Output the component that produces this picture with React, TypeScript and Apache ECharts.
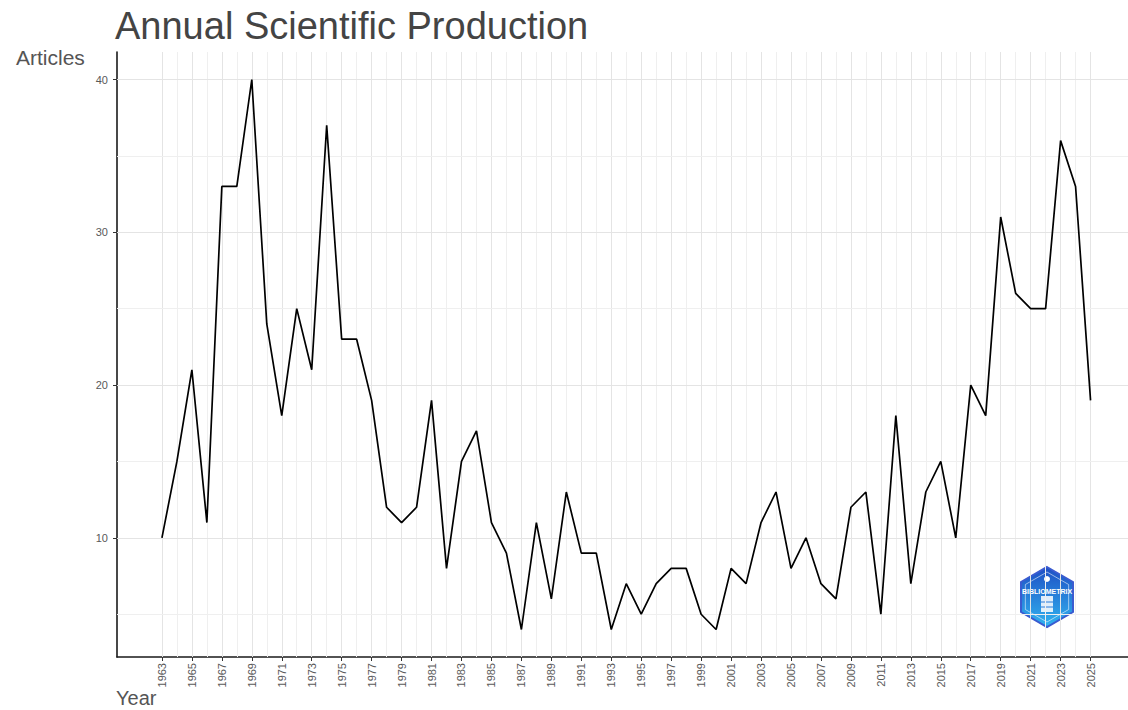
import React, { useEffect, useRef } from "react";
import * as echarts from "echarts";

const years: number[] = [
  1963, 1964, 1965, 1966, 1967, 1968, 1969, 1970, 1971, 1972,
  1973, 1974, 1975, 1976, 1977, 1978, 1979, 1980, 1981, 1982,
  1983, 1984, 1985, 1986, 1987, 1988, 1989, 1990, 1991, 1992,
  1993, 1994, 1995, 1996, 1997, 1998, 1999, 2000, 2001, 2002,
  2003, 2004, 2005, 2006, 2007, 2008, 2009, 2010, 2011, 2012,
  2013, 2014, 2015, 2016, 2017, 2018, 2019, 2020, 2021, 2022,
  2023, 2024, 2025,
];

const articles: number[] = [
  10, 15, 21, 11, 33, 33, 40, 24, 18, 25,
  21, 37, 23, 23, 19, 12, 11, 12, 19, 8,
  15, 17, 11, 9, 4, 11, 6, 13, 9, 9,
  4, 7, 5, 7, 8, 8, 5, 4, 8, 7,
  11, 13, 8, 10, 7, 6, 12, 13, 5, 18,
  7, 13, 15, 10, 20, 18, 31, 26, 25, 25,
  36, 33, 19,
];

const xTickLabels: number[] = [
  1963, 1965, 1967, 1969, 1971, 1973, 1975, 1977, 1979, 1981, 1983,
  1985, 1987, 1989, 1991, 1993, 1995, 1997, 1999, 2001, 2003, 2005,
  2007, 2009, 2011, 2013, 2015, 2017, 2019, 2021, 2023, 2025,
];

const yTickLabels: number[] = [10, 20, 30, 40];
const yMinorGrid: number[] = [5, 15, 25, 35];

const TITLE = "Annual Scientific Production";
const Y_NAME = "Articles";
const X_NAME = "Year";

export default function App() {
  const ref = useRef<HTMLDivElement>(null);

  useEffect(() => {
    if (!ref.current) return;
    const chart = echarts.init(ref.current, null, { renderer: "svg" });

    const gridMarks: any[] = [];
    years.forEach((y) => {
      const major = xTickLabels.includes(y);
      gridMarks.push({
        xAxis: y,
        lineStyle: { color: major ? "#e4e4e4" : "#efefef", width: 1, type: "solid" },
      });
    });
    yTickLabels.forEach((v) =>
      gridMarks.push({ yAxis: v, lineStyle: { color: "#e4e4e4", width: 1, type: "solid" } })
    );
    yMinorGrid.forEach((v) =>
      gridMarks.push({ yAxis: v, lineStyle: { color: "#efefef", width: 1, type: "solid" } })
    );

    const pts = years.map((y, i) => [y, articles[i]]);

    const hexR = 30;
    const cx = 1047;
    const cy = 597;
    const hex = (r: number) =>
      [0, 1, 2, 3, 4, 5].map((k) => {
        const a = (Math.PI / 3) * k - Math.PI / 2;
        return [cx + r * Math.cos(a), cy + r * Math.sin(a)];
      });

    chart.setOption({
      animation: false,
      backgroundColor: "#ffffff",
      textStyle: { fontFamily: "Liberation Sans, Arial, sans-serif" },
      grid: { left: 117, top: 52, width: 1011, height: 605, containLabel: false },
      xAxis: {
        type: "value",
        min: 1960,
        max: 2027.5,
        axisLine: { show: true, onZero: false, lineStyle: { color: "#1a1a1a", width: 1.6 } },
        axisTick: {
          show: true,
          customValues: xTickLabels,
          length: 4,
          lineStyle: { color: "#333333", width: 1 },
        },
        axisLabel: {
          show: true,
          customValues: xTickLabels,
          formatter: (v: number) => String(v),
          rotate: 90,
          fontSize: 11,
          color: "#595959",
          margin: 6,
        },
        splitLine: { show: false },
      },
      yAxis: {
        type: "value",
        min: 2.2,
        max: 41.8,
        axisLine: { show: true, onZero: false, lineStyle: { color: "#1a1a1a", width: 1.6 } },
        axisTick: {
          show: true,
          customValues: yTickLabels,
          length: 4,
          lineStyle: { color: "#333333", width: 1 },
        },
        axisLabel: {
          show: true,
          customValues: yTickLabels,
          formatter: (v: number) => String(v),
          fontSize: 11,
          color: "#595959",
          margin: 9,
        },
        splitLine: { show: false },
      },
      series: [
        {
          type: "line",
          data: pts,
          silent: true,
          symbol: "none",
          z: 1,
          lineStyle: { opacity: 0, width: 0 },
          markLine: {
            silent: true,
            symbol: ["none", "none"],
            label: { show: false },
            data: gridMarks,
          },
        },
        {
          type: "line",
          data: pts,
          symbol: "none",
          z: 5,
          lineStyle: { color: "#000000", width: 1.7 },
        },
      ],
      graphic: [
        {
          type: "text",
          left: 115,
          top: 7,
          style: {
            text: TITLE,
            fontSize: 38,
            fill: "#444444",
            fontFamily: "Liberation Sans, Arial, sans-serif",
          },
        },
        {
          type: "text",
          left: 16,
          top: 47,
          style: {
            text: Y_NAME,
            fontSize: 21,
            fill: "#555555",
            fontFamily: "Liberation Sans, Arial, sans-serif",
          },
        },
        {
          type: "text",
          left: 116,
          top: 688,
          style: {
            text: X_NAME,
            fontSize: 20,
            fill: "#555555",
            fontFamily: "Liberation Sans, Arial, sans-serif",
          },
        },
        {
          type: "group",
          z: 100,
          children: [
            {
              type: "polygon",
              shape: { points: hex(hexR) },
              style: {
                fill: new echarts.graphic.LinearGradient(0, 0, 0, 1, [
                  { offset: 0, color: "#1e4fc4" },
                  { offset: 1, color: "#31b4f0" },
                ]),
                stroke: "#3a5bd0",
                lineWidth: 2,
              },
            },
            {
              type: "polygon",
              shape: { points: hex(hexR - 5) },
              style: { fill: "none", stroke: "rgba(255,255,255,0.55)", lineWidth: 1 },
            },
            {
              type: "text",
              x: cx,
              y: cy - 6,
              style: {
                text: "BIBLIOMETRIX",
                fontSize: 7,
                fontWeight: "bold",
                fill: "#ffffff",
                align: "center",
                verticalAlign: "middle",
              },
            },
            {
              type: "rect",
              shape: { x: cx - 6, y: cy - 1, width: 12, height: 16 },
              style: { fill: "rgba(255,255,255,0.85)" },
            },
            {
              type: "line",
              shape: { x1: cx - 6, y1: cy + 5, x2: cx + 6, y2: cy + 5 },
              style: { stroke: "#2a7ad8", lineWidth: 1 },
            },
            {
              type: "line",
              shape: { x1: cx - 6, y1: cy + 10, x2: cx + 6, y2: cy + 10 },
              style: { stroke: "#2a7ad8", lineWidth: 1 },
            },
            {
              type: "circle",
              shape: { cx: cx, cy: cy - 18, r: 3 },
              style: { fill: "#ffffff" },
            },
          ],
        },
      ],
    });

    return () => chart.dispose();
  }, []);

  return (
    <div
      ref={ref}
      style={{ position: "absolute", left: 0, top: 0, width: 1128, height: 710 }}
    />
  );
}
